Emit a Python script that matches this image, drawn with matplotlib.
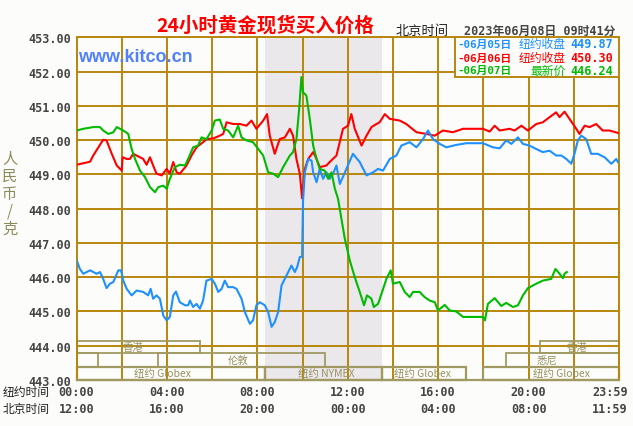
import matplotlib
matplotlib.use("Agg")
import matplotlib.pyplot as plt
from matplotlib.patches import Rectangle
from matplotlib.transforms import blended_transform_factory

CJK = ['Noto Sans CJK SC', 'DejaVu Sans']
MONO = ['DejaVu Sans Mono', 'Noto Sans CJK SC']

# ---------------- data (hours in New York time, price in CNY/g) ----------------
red_t = [0.0, 0.60, 0.74, 1.18, 1.33, 1.56, 1.78, 2.00, 2.04, 2.22, 2.36, 2.51, 2.66, 2.95, 3.10,
         3.25, 3.39, 3.54, 3.77, 3.99, 4.13, 4.28, 4.43, 4.57, 4.87, 5.09, 5.31, 5.60, 5.75, 6.05,
         6.34, 6.49, 6.64, 6.93, 7.23, 7.52, 7.74, 7.96, 8.26, 8.43, 8.55, 8.77, 8.99, 9.22, 9.44,
         9.58, 9.73, 9.88, 9.98, 10.10, 10.25, 10.47, 10.62, 10.76, 11.06, 11.20, 11.50, 11.79,
         12.01, 12.16, 12.31, 12.61, 12.83, 13.05, 13.27, 13.41, 13.64, 13.86, 14.30, 14.59,
         15.04, 15.48, 15.85, 16.21, 16.65, 17.10, 17.98, 18.28, 18.50, 18.72, 19.16, 19.38,
         19.68, 19.97, 20.34, 20.63, 20.93, 21.22, 21.37, 21.59, 21.81, 22.11, 22.25, 22.48,
         22.70, 22.99, 23.28, 23.58, 23.95]
red_v = [449.28, 449.37, 449.55, 450.01, 449.99, 449.60, 449.26, 449.11, 449.50, 449.45, 449.45,
         449.60, 449.55, 449.45, 449.28, 449.50, 449.26, 449.02, 448.97, 449.16, 449.02, 449.36,
         449.06, 449.02, 449.26, 449.55, 449.79, 449.94, 450.03, 450.05, 450.13, 450.18, 450.52,
         450.47, 450.47, 450.42, 450.57, 450.33, 450.57, 450.76, 450.13, 449.60, 450.03, 450.08,
         450.33, 450.13, 449.45, 449.02, 448.30, 449.16, 449.45, 449.65, 449.45, 449.21, 449.26,
         449.36, 449.55, 450.33, 450.42, 450.76, 450.33, 449.84, 450.13, 450.38, 450.47, 450.52,
         450.76, 450.62, 450.57, 450.47, 450.23, 450.18, 450.13, 450.28, 450.23, 450.33, 450.33,
         450.25, 450.42, 450.28, 450.33, 450.28, 450.42, 450.28, 450.47, 450.52, 450.67, 450.81,
         450.67, 450.83, 450.62, 450.33, 450.18, 450.42, 450.38, 450.47, 450.28, 450.28, 450.21]

blue_t = [0.0, 0.15, 0.30, 0.60, 0.89, 1.04, 1.18, 1.33, 1.48, 1.63, 1.85, 1.97, 2.07, 2.22, 2.44,
          2.66, 2.95, 3.17, 3.28, 3.39, 3.54, 3.69, 3.84, 3.99, 4.13, 4.28, 4.40, 4.57, 4.80, 4.94,
          5.02, 5.16, 5.31, 5.46, 5.60, 5.75, 5.98, 6.12, 6.27, 6.42, 6.56, 6.71, 6.93, 7.08, 7.30,
          7.45, 7.67, 7.81, 7.96, 8.11, 8.33, 8.48, 8.63, 8.77, 8.92, 9.07, 9.29, 9.51, 9.66, 9.76,
          9.88, 9.98, 10.02, 10.10, 10.25, 10.40, 10.47, 10.62, 10.76, 10.91, 11.06, 11.20, 11.35,
          11.50, 11.65, 11.94, 12.23, 12.53, 12.83, 13.12, 13.34, 13.56, 13.86, 14.15, 14.37, 14.74,
          15.04, 15.33, 15.55, 15.77, 16.07, 16.36, 16.80, 17.25, 17.98, 18.42, 18.72, 19.01,
          19.24, 19.53, 19.75, 20.04, 20.34, 20.63, 20.93, 21.22, 21.45, 21.67, 21.89, 22.03,
          22.18, 22.33, 22.55, 22.77, 23.06, 23.36, 23.66, 23.88, 23.95]
blue_v = [446.51, 446.24, 446.10, 446.20, 446.10, 446.15, 445.95, 445.68, 445.81, 445.86, 446.20,
          446.20, 445.90, 445.66, 445.47, 445.61, 445.57, 445.47, 445.66, 445.37, 445.47, 445.37,
          444.88, 444.74, 444.84, 445.47, 445.58, 445.27, 445.18, 445.18, 445.32, 445.13, 445.22,
          445.08, 445.32, 445.90, 445.95, 445.81, 445.57, 445.66, 445.90, 445.71, 445.71, 445.66,
          445.37, 444.98, 444.64, 444.74, 445.18, 445.27, 445.18, 444.98, 444.55, 444.69, 444.98,
          445.76, 446.05, 446.34, 446.15, 446.29, 446.59, 446.59, 448.20, 449.06, 449.45, 449.40,
          449.06, 448.77, 449.16, 448.87, 449.06, 448.87, 449.02, 449.26, 448.72, 449.16, 449.60,
          449.36, 448.97, 449.06, 449.16, 449.11, 449.45, 449.55, 449.84, 449.94, 449.79, 450.03,
          450.28, 450.03, 449.89, 449.79, 449.86, 449.91, 449.91, 449.79, 449.76, 449.99, 449.89,
          450.08, 449.89, 449.84, 449.74, 449.65, 449.69, 449.55, 449.55, 449.45, 449.31, 449.60,
          449.99, 450.13, 450.03, 449.60, 449.60, 449.50, 449.31, 449.45, 449.36]

green_t = [0.0, 0.30, 0.74, 1.04, 1.18, 1.41, 1.63, 1.78, 2.07, 2.29, 2.44, 2.59, 2.81, 3.03, 3.25,
           3.47, 3.62, 3.84, 3.99, 4.13, 4.35, 4.57, 4.80, 4.94, 5.16, 5.38, 5.53, 5.75, 5.98, 6.12,
           6.34, 6.49, 6.71, 6.93, 7.15, 7.30, 7.52, 7.81, 8.04, 8.26, 8.48, 8.70, 8.92, 9.14, 9.44,
           9.58, 9.73, 9.85, 9.95, 10.02, 10.17, 10.32, 10.47, 10.62, 10.76, 10.98, 11.13, 11.28,
           11.43, 11.57, 11.87, 12.09, 12.31, 12.53, 12.72, 12.85, 13.05, 13.15, 13.34, 13.49,
           13.71, 13.90, 14.00, 14.30, 14.52, 14.74, 14.89, 15.18, 15.40, 15.62, 15.85, 15.99,
           16.29, 16.51, 16.80, 17.10, 17.98, 18.07, 18.20, 18.50, 18.79, 19.01, 19.31, 19.53,
           19.75, 19.97, 20.34, 20.63, 21.00, 21.19, 21.37, 21.52, 21.59, 21.69]
green_v = [450.28, 450.33, 450.38, 450.38, 450.28, 450.18, 450.23, 450.38, 450.28, 450.18, 449.74,
           449.45, 449.11, 448.92, 448.63, 448.48, 448.63, 448.67, 448.58, 448.87, 449.21, 449.28,
           449.26, 449.45, 449.79, 449.84, 450.08, 450.03, 450.28, 450.57, 450.60, 450.33, 450.28,
           450.08, 450.42, 450.08, 449.99, 449.94, 449.74, 449.55, 449.06, 449.02, 448.92, 449.21,
           449.55, 449.65, 450.03, 450.91, 451.84, 451.40, 451.30, 450.62, 449.84, 449.45, 449.16,
           449.11, 448.87, 449.06, 448.58, 448.29, 447.12, 446.49, 446.00, 445.57, 445.18, 445.47,
           445.37, 445.13, 445.22, 445.51, 445.95, 446.20, 445.81, 445.86, 445.57, 445.42, 445.57,
           445.57, 445.42, 445.32, 445.27, 445.03, 445.19, 445.03, 445.00, 444.84, 444.84, 444.74,
           445.22, 445.39, 445.16, 445.25, 445.13, 445.18, 445.47, 445.68, 445.81, 445.90, 445.95,
           446.24, 446.10, 445.97, 446.10, 446.15]

legend_dates = ['06月05日', '06月06日', '06月07日']
legend_labels = ['纽约收盘', '纽约收盘', '最新价']
legend_values = ['449.87', '450.30', '446.24']

ny_ticks = [0, 4, 8, 12, 16, 20, 24]
ny_labels = ['00:00', '04:00', '08:00', '12:00', '16:00', '20:00', '23:59']
bj_labels = ['12:00', '16:00', '20:00', '00:00', '04:00', '08:00', '11:59']
y_ticks = [443, 444, 445, 446, 447, 448, 449, 450, 451, 452, 453]

# trading sessions: (label, start hour, end hour, row)
session_labels = ['香港', '香港', '', '伦敦', '悉尼', '纽约 Globex', '纽约 NYMEX', '纽约 Globex', '纽约 Globex']
session_start = [0.0, 20.5, 0.0, 3.62, 19.0, 0.0, 8.33, 13.5, 18.0]
session_end = [5.45, 24.0, 0.96, 11.0, 24.0, 8.33, 13.5, 17.25, 24.0]
session_row = [0, 0, 1, 1, 1, 2, 2, 2, 2]
session_label_x = [2.5, 22.12, 0, 7.14, 20.8, 3.82, 11.07, 15.31, 21.46]
nymex_span = (8.33, 13.5)

# ---------------- style ----------------
BG = '#fcfdfa'
GOLD = '#b8860b'
OLIVE = '#a09a62'
BLUE = '#1e90ff'
RED = '#ff0000'
GREEN = '#00bb00'

W, H = 633, 427
fig = plt.figure(figsize=(W / 100, H / 100), dpi=100, facecolor=BG)
L, R, T, B = 76.5, 619, 38.3, 381
ax = fig.add_axes([L / W, 1 - B / H, (R - L) / W, (B - T) / H])
ax.set_facecolor(BG)
ax.set_xlim(0, 24)
ax.set_ylim(443, 453)

ax.axvspan(*nymex_span, facecolor='#ebe8ec', edgecolor='none', zorder=0)

ax.set_xticks(range(0, 25, 2))
ax.set_xticklabels([])
ax.set_yticks(y_ticks)
ax.set_yticklabels([f'{v:.2f}' for v in y_ticks], family='DejaVu Sans Mono',
                   fontweight='bold', fontsize=8.5, color='#444444')
ax.tick_params(length=0, pad=4)
ax.grid(True, color=GOLD, lw=1.4, zorder=1)
ax.set_axisbelow(True)
for s in ['left', 'right', 'top']:
    ax.spines[s].set_color(GOLD)
    ax.spines[s].set_linewidth(1.4)
ax.spines['bottom'].set_color(OLIVE)
ax.spines['bottom'].set_linewidth(1.6)

# session boxes
row_edges = [444.15, 443.78, 443.39, 443.0]
for lab, s, e, r, lx in zip(session_labels, session_start, session_end, session_row, session_label_x):
    top, bot = row_edges[r], row_edges[r + 1]
    ax.add_patch(Rectangle((s, bot), e - s, top - bot, fill=False, edgecolor=OLIVE,
                           lw=1.3 if r < 2 else 1.6, zorder=2, clip_on=False))
    if lab:
        ax.text(lx, (top + bot) / 2, lab, family=CJK, fontsize=7.5, color='#979160',
                ha='center', va='center', zorder=3)

# price lines
ax.plot(red_t, red_v, color=RED, lw=1.5, zorder=4)
ax.plot(blue_t, blue_v, color=BLUE, lw=1.5, zorder=5)
ax.plot(green_t, green_v, color=GREEN, lw=1.5, zorder=6)

# legend box
lx0 = (455 - L) / (R - L)
ly0 = (B - 78.3) / (B - T)
ax.add_patch(Rectangle((lx0, ly0), 1 - lx0, 1 - ly0, transform=ax.transAxes,
                       facecolor=BG, edgecolor=GOLD, lw=1.4, zorder=7))
for i, (d, lab, val, c) in enumerate(zip(legend_dates, legend_labels, legend_values, [BLUE, RED, GREEN])):
    y = 1 - [44.5, 58.8, 71.3][i] / H
    fig.text(457 / W, y, '-' + d, family=MONO, fontweight='bold', fontsize=7.8, color=c,
             ha='left', va='center', zorder=8)
    fig.text(566 / W, y, lab, family=CJK, fontsize=8.5, color=c, ha='right', va='center', zorder=8)
    fig.text(613 / W, y, val, family='DejaVu Sans Mono', fontweight='bold', fontsize=8.5,
             color=c, ha='right', va='center', zorder=8)

# header texts
fig.text(265 / W, 1 - 26 / H, '24小时黄金现货买入价格', family=CJK, fontsize=14,
         fontweight='bold', color='red', ha='center', va='center')
fig.text(396 / W, 1 - 31 / H, '北京时间', family=CJK, fontsize=9.5, color='#222222',
         ha='left', va='center')
fig.text(615 / W, 1 - 31 / H, '2023年06月08日 09时41分', family=MONO, fontsize=8.5,
         fontweight='bold', color='#444444', ha='right', va='center')
fig.text(78 / W, 1 - 57 / H, 'www.kitco.cn', family='Liberation Sans', fontsize=13,
         fontweight='bold', color='#5080fa', ha='left', va='center')

# y label
fig.text(10 / W, 1 - 194 / H, '人\n民\n币\n/\n克', family=CJK, fontsize=11, color='#8c8a5a',
         ha='center', va='center', linespacing=1.05)

# x labels
tr = blended_transform_factory(ax.transData, fig.transFigure)
fig.text(3 / W, 1 - 393 / H, '纽约时间', family=CJK, fontsize=8.5, color='#222222', ha='left', va='center')
fig.text(3 / W, 1 - 410 / H, '北京时间', family=CJK, fontsize=8.5, color='#222222', ha='left', va='center')
for t, a, b in zip(ny_ticks, ny_labels, bj_labels):
    xt = t if t < 24 else 23.6
    ax.text(xt, 1 - 393 / H, a, transform=tr, family='DejaVu Sans Mono', fontweight='bold',
            fontsize=8.5, color='#444444', ha='center', va='center', clip_on=False)
    ax.text(xt, 1 - 410 / H, b, transform=tr, family='DejaVu Sans Mono', fontweight='bold',
            fontsize=8.5, color='#444444', ha='center', va='center', clip_on=False)

fig.savefig('out.png', dpi=100, facecolor=BG)
